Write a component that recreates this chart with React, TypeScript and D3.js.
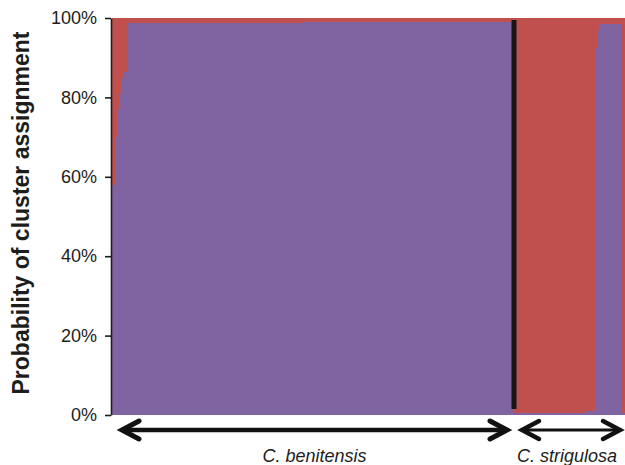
import { useEffect, useRef } from "react";
import * as d3 from "d3";

const WIDTH = 625;
const HEIGHT = 465;

// run lengths of individuals and their purple-cluster share, read left to right
const benitensisCounts = [1, 1, 1, 1, 1, 2, 88, 106];
const benitensisPurple = [0.58, 0.7, 0.77, 0.81, 0.85, 0.865, 0.987, 0.99];
const strigulosaCounts = [35, 5, 1, 1, 12, 2];
const strigulosaPurple = [0.005, 0.01, 0.925, 0.97, 0.985, 0.005];

const groups = ["C. benitensis", "C. strigulosa"];
const yTicks = [0, 0.2, 0.4, 0.6, 0.8, 1];

const PURPLE = "#8064a2";
const RED = "#c0504d";
const INK = "#1d1d1b";
const FONT = "'Liberation Sans', Arial, Helvetica, sans-serif";

type Row = { id: number; group: string; purple: number; red: number };

const expand = (counts: number[], values: number[], group: string, start: number): Row[] => {
  const rows: Row[] = [];
  let id = start;
  counts.forEach((c, i) => {
    for (let k = 0; k < c; k++) {
      rows.push({ id: id++, group, purple: values[i], red: 1 - values[i] });
    }
  });
  return rows;
};

export default function App() {
  const svgRef = useRef<SVGSVGElement>(null);

  useEffect(() => {
    const svg = d3.select(svgRef.current);
    svg.selectAll("*").remove();

    const ben = expand(benitensisCounts, benitensisPurple, groups[0], 0);
    const str = expand(strigulosaCounts, strigulosaPurple, groups[1], ben.length);
    const rows = [...ben, ...str];

    const x = d3
      .scaleBand<number>()
      .domain(rows.map((d) => d.id))
      .range([112, 626])
      .padding(0);
    const y = d3.scaleLinear().domain([0, 1]).range([415, 18]);
    const bw = x.bandwidth();

    const series = d3.stack<Row>().keys(["purple", "red"])(rows);
    const colors: Record<string, string> = { purple: PURPLE, red: RED };

    svg
      .append("g")
      .attr("shape-rendering", "crispEdges")
      .selectAll("g")
      .data(series)
      .join("g")
      .attr("fill", (s) => colors[s.key])
      .selectAll("rect")
      .data((s) => s)
      .join("rect")
      .attr("x", (d) => x(d.data.id)!)
      .attr("width", bw + 0.5)
      .attr("y", (d) => y(d[1]))
      .attr("height", (d) => Math.max(0, y(d[0]) - y(d[1])));

    // separator between the two species
    const sepX = x(str[0].id)!;
    svg
      .append("line")
      .attr("x1", sepX)
      .attr("x2", sepX)
      .attr("y1", y(0.995))
      .attr("y2", y(0.015))
      .attr("stroke", "#161616")
      .attr("stroke-width", 5);

    // y axis
    const axis = svg
      .append("g")
      .attr("transform", "translate(111,0)")
      .call(
        d3
          .axisLeft(y)
          .tickValues(yTicks)
          .tickFormat(d3.format(".0%"))
          .tickSize(6)
          .tickSizeOuter(0)
          .tickPadding(8)
      );
    axis.select(".domain").attr("stroke", INK).attr("stroke-width", 1.6);
    axis.selectAll(".tick line").attr("stroke", INK).attr("stroke-width", 1.6);
    axis
      .selectAll(".tick text")
      .attr("fill", INK)
      .attr("font-size", 18)
      .attr("font-family", FONT);

    svg
      .append("text")
      .attr("transform", "translate(29,213) rotate(-90)")
      .attr("text-anchor", "middle")
      .attr("font-family", FONT)
      .attr("font-weight", "bold")
      .attr("font-size", 23)
      .attr("fill", INK)
      .text("Probability of cluster assignment");

    // group arrows and labels
    const arrows = [
      { x1: x(ben[0].id)! + 10, x2: x(ben[ben.length - 1].id)! + bw - 7, line: 4.7, head: 5, label: groups[0], lx: 0 },
      { x1: x(str[0].id)! + 8, x2: x(str[str.length - 1].id)! + bw - 6, line: 3.2, head: 4.5, label: groups[1], lx: -4 },
    ];
    const ay = 430;
    const g = svg.append("g").attr("stroke", "#111").attr("fill", "none");
    arrows.forEach((a) => {
      g.append("path")
        .attr("d", `M${a.x1 + 2},${ay}H${a.x2 - 2}`)
        .attr("stroke-width", a.line);
      g.append("path")
        .attr("d", `M${a.x1 + 17},${ay - 9}L${a.x1},${ay}L${a.x1 + 17},${ay + 9}M${a.x2 - 17},${ay - 9}L${a.x2},${ay}L${a.x2 - 17},${ay + 9}`)
        .attr("stroke-width", a.head)
        .attr("stroke-linecap", "round")
        .attr("stroke-linejoin", "miter");
      svg
        .append("text")
        .attr("x", (a.x1 + a.x2) / 2 + a.lx)
        .attr("y", 462)
        .attr("text-anchor", "middle")
        .attr("font-family", FONT)
        .attr("font-style", "italic")
        .attr("font-size", 18)
        .attr("fill", INK)
        .text(a.label);
    });
  }, []);

  return (
    <svg
      ref={svgRef}
      width={WIDTH}
      height={HEIGHT}
      style={{ position: "absolute", left: 0, top: 0, background: "#fff" }}
    />
  );
}
